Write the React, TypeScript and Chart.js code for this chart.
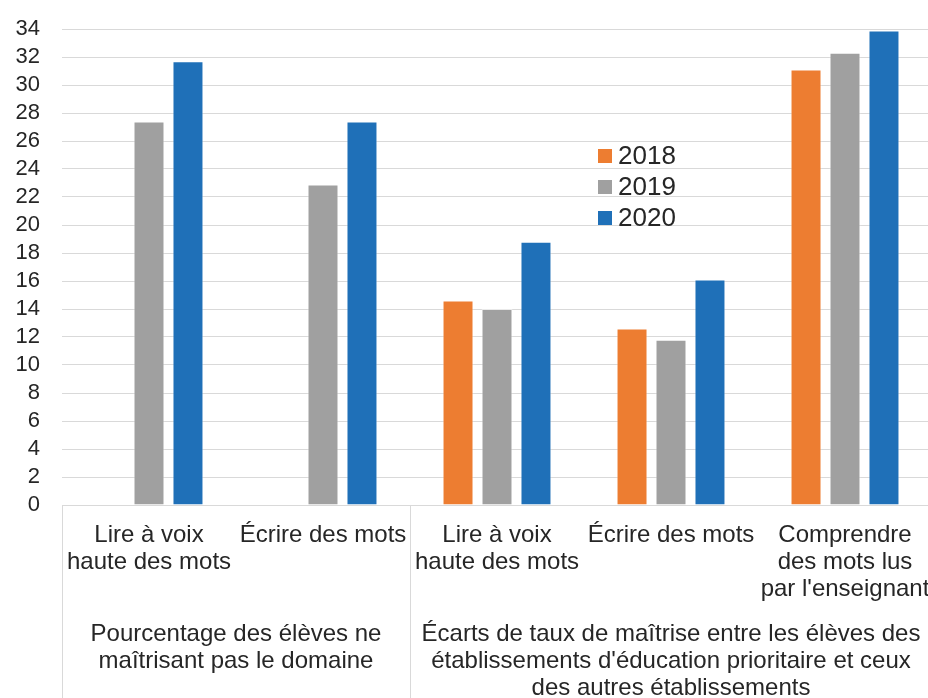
import React, { useEffect, useRef } from "react";
import { Chart, registerables } from "chart.js";

Chart.register(...registerables);

const categories: string[][] = [
  ["Lire à voix", "haute des mots"],
  ["Écrire des mots"],
  ["Lire à voix", "haute des mots"],
  ["Écrire des mots"],
  ["Comprendre", "des mots lus", "par l'enseignant"],
];

const groupLabels: string[][] = [
  ["Pourcentage des élèves ne", "maîtrisant pas le domaine"],
  [
    "Écarts de taux de maîtrise entre les élèves des",
    "établissements d'éducation prioritaire et ceux",
    "des autres établissements",
  ],
];
const groupSpans: number[][] = [
  [0, 1],
  [2, 4],
];

const seriesNames = ["2018", "2019", "2020"];
const values2018: (number | null)[] = [null, null, 14.6, 12.6, 31.1];
const values2019: (number | null)[] = [27.4, 22.9, 14.0, 11.8, 32.3];
const values2020: (number | null)[] = [31.7, 27.4, 18.8, 16.1, 33.9];
const seriesColors = ["#ED7D31", "#A0A0A0", "#1F70B8"];

const yTicksMax = 34;
const yTicksStep = 2;

const FONT = "'Liberation Sans', Arial, sans-serif";
const TEXT = "#262626";
const LINE = "#d9d9d9";

const groupPlugin = {
  id: "groupAxis",
  afterDraw(chart: any) {
    const { ctx, chartArea } = chart;
    const x = chart.scales.x;
    const h = chart.height;
    const bounds: number[] = [];
    groupSpans.forEach(([a, b], i) => {
      const left = a === 0 ? chartArea.left : (x.getPixelForValue(a - 1) + x.getPixelForValue(a)) / 2;
      const right =
        b === categories.length - 1 ? chartArea.right : (x.getPixelForValue(b) + x.getPixelForValue(b + 1)) / 2;
      bounds.push(left, right);
      ctx.save();
      ctx.font = `24px ${FONT}`;
      ctx.fillStyle = TEXT;
      ctx.textAlign = "center";
      ctx.textBaseline = "middle";
      const cx = (left + right) / 2;
      groupLabels[i].forEach((line, j) => {
        ctx.fillText(line, cx, chartArea.bottom + 129 + j * 27);
      });
      ctx.restore();
    });
    ctx.save();
    ctx.strokeStyle = LINE;
    ctx.lineWidth = 1;
    const uniq = Array.from(new Set(bounds.map((b) => Math.round(b))));
    uniq.forEach((bx) => {
      ctx.beginPath();
      ctx.moveTo(bx + 0.5, chartArea.bottom);
      ctx.lineTo(bx + 0.5, h);
      ctx.stroke();
    });
    ctx.restore();
  },
};

const legendPlugin = {
  id: "innerLegend",
  afterDraw(chart: any) {
    const { ctx, chartArea } = chart;
    const x0 = chartArea.left + 536;
    const y0 = chartArea.top + 127;
    ctx.save();
    ctx.font = `26px ${FONT}`;
    ctx.textBaseline = "middle";
    ctx.textAlign = "left";
    chart.data.datasets.forEach((ds: any, i: number) => {
      const cy = y0 + i * 31;
      ctx.fillStyle = ds.backgroundColor;
      ctx.fillRect(x0, cy - 7, 14, 14);
      ctx.fillStyle = TEXT;
      ctx.fillText(ds.label, x0 + 20, cy + 1);
    });
    ctx.restore();
  },
};

export default function App() {
  const ref = useRef<HTMLCanvasElement | null>(null);

  useEffect(() => {
    if (!ref.current) return;
    const data = [values2018, values2019, values2020];
    const chart = new Chart(ref.current, {
      type: "bar",
      data: {
        labels: categories,
        datasets: seriesNames.map((name, i) => ({
          label: name,
          data: data[i],
          backgroundColor: seriesColors[i],
          borderColor: "rgba(255,255,255,0.45)",
          borderWidth: 1,
          categoryPercentage: 0.672,
          barPercentage: 0.795,
        })),
      },
      options: {
        responsive: false,
        animation: false,
        layout: { padding: { top: 29, right: 8, left: 0, bottom: 0 } },
        plugins: {
          legend: { display: false },
          tooltip: { enabled: false },
        },
        scales: {
          x: {
            type: "category",
            offset: true,
            grid: {
              display: true,
              color: "rgba(0,0,0,0)",
              drawOnChartArea: false,
              drawTicks: true,
              tickLength: 17,
              tickColor: "rgba(0,0,0,0)",
            },
            border: { display: true, color: LINE, width: 1 },
            ticks: {
              font: { family: FONT, size: 24, lineHeight: 1.125 },
              color: TEXT,
              padding: 0,
              maxRotation: 0,
              minRotation: 0,
              autoSkip: false,
            },
            afterFit(scale: any) {
              scale.height = 193;
            },
          },
          y: {
            min: 0,
            max: yTicksMax,
            grid: {
              color: LINE,
              lineWidth: 1,
              drawTicks: true,
              tickLength: 22,
              tickColor: "rgba(0,0,0,0)",
            },
            border: { display: false },
            ticks: {
              stepSize: yTicksStep,
              autoSkip: false,
              font: { family: FONT, size: 22 },
              color: TEXT,
              padding: 0,
            },
            afterFit(scale: any) {
              scale.width = 62;
            },
          },
        },
      },
      plugins: [groupPlugin, legendPlugin],
    });
    return () => chart.destroy();
  }, []);

  return (
    <div
      style={{
        position: "absolute",
        left: 0,
        top: 0,
        width: 928,
        height: 698,
        overflow: "hidden",
        background: "#fff",
      }}
    >
      <canvas ref={ref} width={940} height={698} style={{ display: "block", width: 940, height: 698 }} />
    </div>
  );
}
